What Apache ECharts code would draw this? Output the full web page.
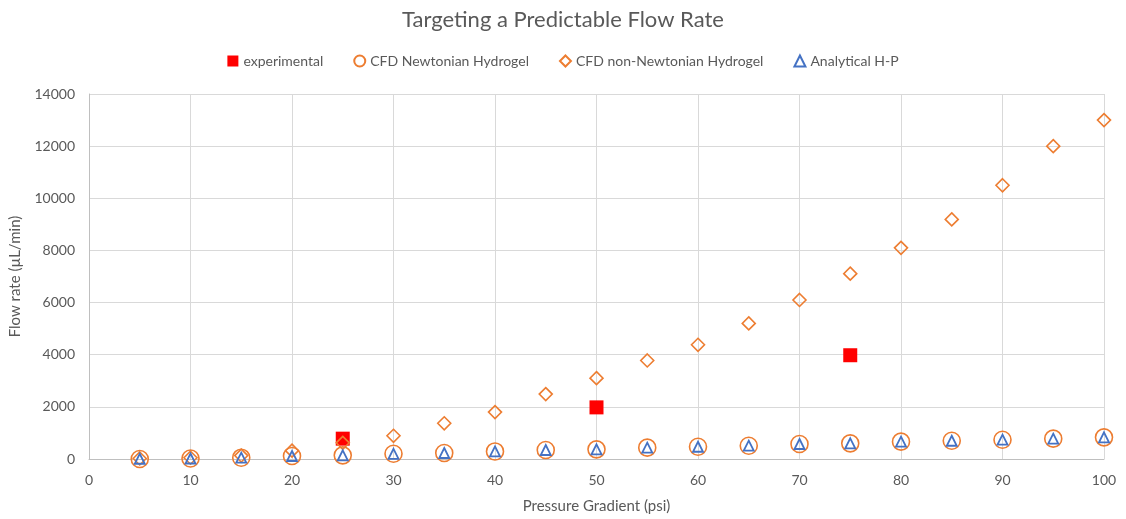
<!DOCTYPE html>
<html><head><meta charset="utf-8">
<script src="https://cdn.jsdelivr.net/npm/echarts@6/dist/echarts.min.js"></script>
<style>html,body{margin:0;padding:0;background:#fff}#c{width:1126px;height:519px}</style>
</head><body><div id="c"></div>
<script>
const pressure = [5,10,15,20,25,30,35,40,45,50,55,60,65,70,75,80,85,90,95,100];
const expX = [25,50,75];
const experimental = [780,1980,3980];
const newtonian = [0,20,50,115,140,200,230,290,345,370,435,470,510,575,600,665,700,740,780,830];
const nonNewtonian = [20,50,130,320,620,890,1370,1800,2490,3100,3780,4380,5200,6100,7110,8100,9190,10500,12000,13000];
const analytical = [10,20,50,115,140,200,230,290,345,370,435,470,510,575,600,665,700,740,780,830];
const xTicks = [0,10,20,30,40,50,60,70,80,90,100];
const yTicks = [0,2000,4000,6000,8000,10000,12000,14000];

const FONT = 'Lato';
const txt = '#595959';
const pair = (xs, ys) => xs.map((x,i)=>[x, ys[i]]);

const chart = echarts.init(document.getElementById('c'));
chart.setOption({
  animation:false,
  textStyle:{fontFamily:FONT},
  title:{text:'Targeting a Predictable Flow Rate', left:'center', top:4,
    textStyle:{fontFamily:FONT, fontSize:22, fontWeight:'normal', color:txt}},
  legend:{top:49, left:'center', itemGap:30, itemWidth:11, itemHeight:11,
    textStyle:{fontFamily:FONT, fontSize:14, color:txt},
    data:['experimental','CFD Newtonian Hydrogel','CFD non-Newtonian Hydrogel','Analytical H-P']},
  grid:{left:89, right:22, top:94, bottom:60},
  xAxis:{type:'value', min:xTicks[0], max:xTicks[xTicks.length-1], interval:10,
    name:'Pressure Gradient (psi)', nameLocation:'middle', nameGap:40,
    nameTextStyle:{fontFamily:FONT, fontSize:15, color:txt},
    axisLine:{show:true, lineStyle:{color:'#bfbfbf'}}, axisTick:{show:false},
    axisLabel:{color:txt, fontSize:14, fontFamily:FONT, margin:14},
    splitLine:{show:true, lineStyle:{color:'#d9d9d9', width:1}}},
  yAxis:{type:'value', min:yTicks[0], max:yTicks[yTicks.length-1], interval:2000,
    name:'Flow rate (µL/min)', nameLocation:'middle', nameGap:66,
    nameTextStyle:{fontFamily:FONT, fontSize:15, color:txt},
    axisLine:{show:true, lineStyle:{color:'#bfbfbf'}}, axisTick:{show:false},
    axisLabel:{color:txt, fontSize:14, fontFamily:FONT, margin:14, formatter:v=>String(v)},
    splitLine:{show:true, lineStyle:{color:'#d9d9d9', width:1}}},
  series:[
    {name:'experimental', type:'scatter', symbol:'rect', symbolSize:14,
      itemStyle:{color:'#ff0000', opacity:1}, data:pair(expX, experimental)},
    {name:'CFD Newtonian Hydrogel', type:'scatter', symbol:'circle', symbolSize:17,
      itemStyle:{color:'rgba(255,255,255,0)', borderColor:'#ed7d31', borderWidth:1.6, opacity:1},
      data:pair(pressure, newtonian)},
    {name:'CFD non-Newtonian Hydrogel', type:'scatter', symbol:'diamond', symbolSize:13,
      itemStyle:{color:'rgba(255,255,255,0)', borderColor:'#ed7d31', borderWidth:1.6, opacity:1},
      data:pair(pressure, nonNewtonian)},
    {name:'Analytical H-P', type:'scatter', symbol:'triangle', symbolSize:10,
      itemStyle:{color:'rgba(255,255,255,0)', borderColor:'#4472c4', borderWidth:1.8, opacity:1},
      data:pair(pressure, analytical)}
  ]
});
</script></body></html>
